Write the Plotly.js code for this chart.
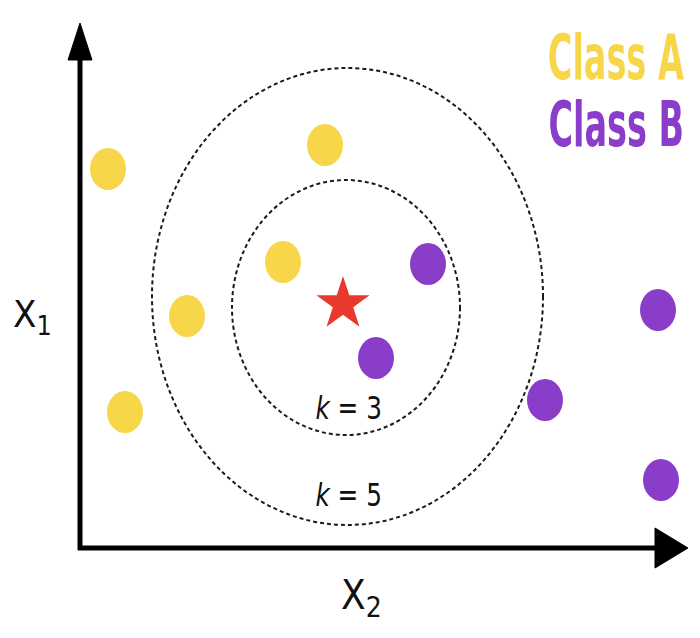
<!DOCTYPE html>
<html>
<head>
<meta charset="utf-8">
<script src="https://cdn.plot.ly/plotly-3.0.1.min.js"></script>
<style>html,body{margin:0;padding:0;background:#fff;}#chart{width:700px;height:638px;}</style>
</head>
<body>
<div id="chart"></div>
<script>
// Feature-space coordinates (origin at the axes corner)
const classA_x2 = [28, 245, 203, 107, 45];
const classA_x1 = [379, 403, 286, 232, 136];
const classB_x2 = [348, 296, 465, 578, 581];
const classB_x1 = [284, 190, 148, 238, 68];
const query_x2 = [263];
const query_x1 = [244];
const kValues = [3, 5];
// neighbourhood extents
const kRegionX0 = [152, 72];
const kRegionX1 = [380, 463];
const kRegionY0 = [113, 23];
const kRegionY1 = [368, 480];
const kLabelX = [268, 268];
const kLabelY = [140, 53];
const legendNames = ["Class A", "Class B"];

const yellow = "#F7D64A";
const purple = "#8A3DC8";
const red = "#E8392C";
const narrow = "DejaVu Sans Condensed, Liberation Sans Narrow, Arial Narrow, sans-serif";

const traces = [
  {x: classA_x2, y: classA_x1, mode: "markers", type: "scatter", name: legendNames[0],
   marker: {color: yellow, size: 1, opacity: 0}, hoverinfo: "skip"},
  {x: classB_x2, y: classB_x1, mode: "markers", type: "scatter", name: legendNames[1],
   marker: {color: purple, size: 1, opacity: 0}, hoverinfo: "skip"},
  {x: query_x2, y: query_x1, mode: "markers", type: "scatter", name: "query",
   marker: {color: red, size: 40, symbol: "star"}, hoverinfo: "skip"}
];

const shapes = [];
for (let i = 0; i < kValues.length; i++) {
  shapes.push({type: "circle", xref: "x", yref: "y",
    x0: kRegionX0[i], x1: kRegionX1[i], y0: kRegionY0[i], y1: kRegionY1[i],
    line: {color: "#1a1a1a", width: 2, dash: "4px,3px"}, layer: "below"});
}
// class points drawn as slightly tall ellipses anchored at the data values
function addPoints(xs, ys, color) {
  for (let i = 0; i < xs.length; i++) {
    shapes.push({type: "circle", xref: "x", yref: "y",
      xsizemode: "pixel", ysizemode: "pixel", xanchor: xs[i], yanchor: ys[i],
      x0: -18, x1: 18, y0: -21, y1: 21,
      fillcolor: color, line: {width: 0}, layer: "above"});
  }
}
addPoints(classA_x2, classA_x1, yellow);
addPoints(classB_x2, classB_x1, purple);
// axes with arrowheads
shapes.push({type: "line", xref: "x", yref: "y", x0: 0, y0: -2, x1: 0, y1: 490, line: {color: "#000", width: 5}});
shapes.push({type: "line", xref: "x", yref: "y", x0: -2, y0: 0, x1: 577, y1: 0, line: {color: "#000", width: 5}});
shapes.push({type: "path", xref: "x", yref: "y", path: "M -12 488 L 12 488 L 0 525 Z", fillcolor: "#000", line: {color: "#000", width: 1}});
shapes.push({type: "path", xref: "x", yref: "y", path: "M 575 -20 L 575 20 L 608 0 Z", fillcolor: "#000", line: {color: "#000", width: 1}});

const annotations = [];
for (let i = 0; i < kValues.length; i++) {
  annotations.push({x: kLabelX[i], y: kLabelY[i], xref: "x", yref: "y", showarrow: false,
    text: "<i>k</i> = " + kValues[i], font: {family: narrow, size: 32, color: "#111"}});
}
annotations.push({x: 281, y: -50, xref: "x", yref: "y", showarrow: false,
  text: "X<sub>2</sub>", font: {family: narrow, size: 40, color: "#111"}});
annotations.push({x: -48, y: 232, xref: "x", yref: "y", showarrow: false,
  text: "X<sub>1</sub>", font: {family: narrow, size: 38, color: "#111"}});
annotations.push({x: 606, y: 491, xref: "x", yref: "y", xanchor: "right", showarrow: false,
  text: "<b>" + legendNames[0] + "</b>", font: {family: narrow, size: 62, color: yellow}});
annotations.push({x: 606, y: 424, xref: "x", yref: "y", xanchor: "right", showarrow: false,
  text: "<b>" + legendNames[1] + "</b>", font: {family: narrow, size: 62, color: purple}});

const layout = {
  width: 700, height: 638,
  margin: {l: 0, r: 0, t: 0, b: 0},
  paper_bgcolor: "#fff", plot_bgcolor: "#fff",
  showlegend: false,
  xaxis: {range: [-80, 620], visible: false, fixedrange: true},
  yaxis: {range: [-90, 548], visible: false, fixedrange: true},
  shapes: shapes,
  annotations: annotations
};

Plotly.newPlot("chart", traces, layout, {displayModeBar: false, staticPlot: true}).then(function (gd) {
  // condense the class labels horizontally (the reference uses a tall condensed face)
  const anns = gd.querySelectorAll(".annotation");
  const squeeze = {0: 0.86, 1: 0.86, 4: 0.6, 5: 0.6};
  Object.keys(squeeze).forEach(function (k) {
    const a = anns[+k];
    if (!a) return;
    const t = a.querySelector("text.annotation-text");
    if (!t) return;
    t.style.transformBox = "fill-box";
    t.style.transformOrigin = (+k >= 4) ? "right center" : "center center";
    t.style.transform = "scaleX(" + squeeze[k] + ")";
  });
});
</script>
</body>
</html>
